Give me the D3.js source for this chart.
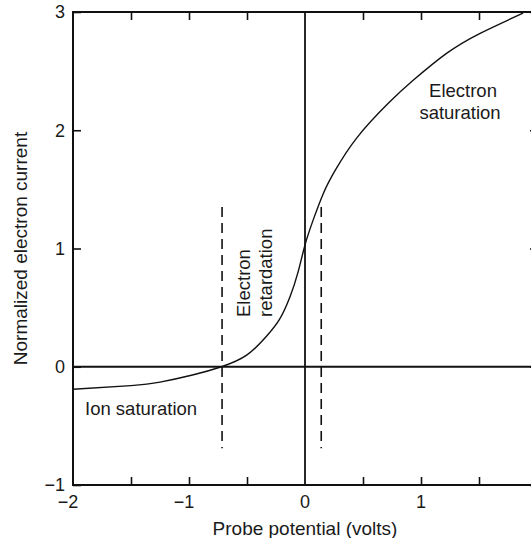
<!DOCTYPE html>
<html>
<head>
<meta charset="utf-8">
<script src="https://cdn.jsdelivr.net/npm/d3@7"></script>
<style>
  body { margin: 0; background: #fff; }
  svg { display: block; }
  text { font-family: "Liberation Sans", Arial, Helvetica, sans-serif; fill: #1a1a1a; }
</style>
</head>
<body>
<svg id="canvas" width="531" height="538"></svg>
<script>
// probe I-V curve
let potential = [-2, -1.5, -1.25, -0.97, -0.72, -0.5, -0.33, -0.22, -0.13, -0.06, 0, 0.07, 0.16, 0.26, 0.45, 0.72, 0.93, 1.22, 1.51, 1.88]
let current = [-0.19, -0.16, -0.13, -0.07, 0, 0.10, 0.26, 0.40, 0.59, 0.80, 1.03, 1.24, 1.47, 1.66, 1.94, 2.23, 2.42, 2.65, 2.82, 2.99]

let xTickLabels = [-2, -1, 0, 1]
let yTickLabels = [-1, 0, 1, 2, 3]
let xMinorTicks = [-1.5, -1, -0.5, 0.5, 1, 1.5]

// region boundaries (dashed) and their vertical extent
let boundaries = [-0.715, 0.14]
let boundaryRange = [-0.69, 1.35]

let canvas = d3.select('#canvas')

let plotLeft = 73, plotRight = 537, plotTop = 12, plotBottom = 485

let xScale = d3.scaleLinear().domain([-2, 2]).range([plotLeft, plotRight])
let yScale = d3.scaleLinear().domain([-1, 3]).range([plotBottom, plotTop])

// frame ticks, all pointing inwards
let axes = canvas.append('g')
axes.append('g').attr('transform', 'translate(0,' + plotBottom + ')')
    .call(d3.axisTop(xScale).tickValues(xMinorTicks).tickSize(8).tickFormat(''))
axes.append('g').attr('transform', 'translate(0,' + plotTop + ')')
    .call(d3.axisBottom(xScale).tickValues(xMinorTicks).tickSize(8).tickFormat(''))
axes.append('g').attr('transform', 'translate(' + plotLeft + ',0)')
    .call(d3.axisRight(yScale).tickValues(yTickLabels).tickSize(8).tickFormat(''))
axes.append('g').attr('transform', 'translate(' + plotRight + ',0)')
    .call(d3.axisLeft(yScale).tickValues(yTickLabels).tickSize(7).tickFormat(''))
axes.selectAll('.domain').remove()
axes.selectAll('.tick line').attr('stroke', '#111').attr('stroke-width', 1.6)

// frame
canvas.append('rect')
      .attr('x', plotLeft).attr('y', plotTop)
      .attr('width', plotRight - plotLeft).attr('height', plotBottom - plotTop)
      .attr('fill', 'none').attr('stroke', '#111').attr('stroke-width', 2)

// zero lines
canvas.append('line')
      .attr('x1', plotLeft).attr('x2', plotRight)
      .attr('y1', yScale(0)).attr('y2', yScale(0))
      .attr('stroke', '#111').attr('stroke-width', 2.2)
canvas.append('line')
      .attr('x1', xScale(0)).attr('x2', xScale(0))
      .attr('y1', plotTop).attr('y2', plotBottom)
      .attr('stroke', '#111').attr('stroke-width', 1.8)

// dashed boundaries
canvas.selectAll('.boundary')
      .data(boundaries)
      .enter()
      .append('line')
      .attr('class', 'boundary')
      .attr('x1', (d) => xScale(d)).attr('x2', (d) => xScale(d))
      .attr('y1', yScale(boundaryRange[1])).attr('y2', yScale(boundaryRange[0]))
      .attr('stroke', '#111').attr('stroke-width', 1.6)
      .attr('stroke-dasharray', '10,6')

// curve
let points = potential.map((v, i) => [v, current[i]])
let line = d3.line()
             .x((d) => xScale(d[0]))
             .y((d) => yScale(d[1]))
             .curve(d3.curveNatural)
canvas.append('path')
      .attr('d', line(points))
      .attr('fill', 'none')
      .attr('stroke', '#111')
      .attr('stroke-width', 1.4)

// tick labels
canvas.selectAll('.xlabel')
      .data(xTickLabels)
      .enter()
      .append('text')
      .attr('class', 'xlabel')
      .attr('x', (d) => xScale(d))
      .attr('y', 508)
      .attr('dx', (d) => d < 0 ? -5 : 0)
      .attr('text-anchor', 'middle')
      .attr('font-size', 18)
      .text((d) => d < 0 ? '\u2212' + Math.abs(d) : d)

canvas.selectAll('.ylabel')
      .data(yTickLabels)
      .enter()
      .append('text')
      .attr('class', 'ylabel')
      .attr('x', 65)
      .attr('y', (d) => yScale(d))
      .attr('dy', '0.35em')
      .attr('text-anchor', 'end')
      .attr('font-size', 18)
      .text((d) => d < 0 ? '\u2212' + Math.abs(d) : d)

// axis titles
canvas.append('text')
      .attr('x', xScale(0)).attr('y', 535)
      .attr('text-anchor', 'middle')
      .attr('font-size', 19)
      .text('Probe potential (volts)')

canvas.append('text')
      .attr('transform', 'translate(27,' + (plotTop + plotBottom) / 2 + ') rotate(-90)')
      .attr('text-anchor', 'middle')
      .attr('font-size', 19)
      .text('Normalized electron current')

// region annotations
let es = canvas.append('text')
               .attr('text-anchor', 'middle')
               .attr('font-size', 18.5)
es.append('tspan').attr('x', 463).attr('y', 97).text('Electron')
es.append('tspan').attr('x', 460).attr('y', 119).text('saturation')

canvas.append('text')
      .attr('x', 85).attr('y', 415)
      .attr('font-size', 18.5)
      .text('Ion saturation')

let er = canvas.append('text')
               .attr('transform', 'translate(250,317) rotate(-90)')
               .attr('font-size', 18.5)
er.append('tspan').attr('x', 0).attr('y', 0).text('Electron')
er.append('tspan').attr('x', 0).attr('y', 22).text('retardation')
</script>
</body>
</html>
